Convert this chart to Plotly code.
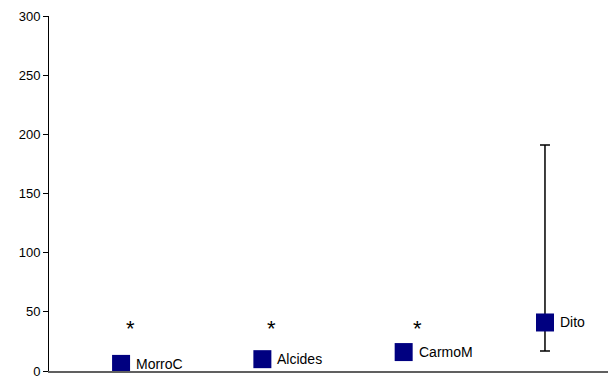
import plotly.graph_objects as go

sites = ["MorroC", "Alcides", "CarmoM", "Dito"]
values = [6, 10, 16, 41]
err_plus = [0, 0, 0, 150]
err_minus = [0, 0, 0, 24]
star_labels = ["*", "*", "*", ""]
star_level = [36, 36, 36, None]
y_ticks = [0, 50, 100, 150, 200, 250, 300]

xs = list(range(len(sites)))

fig = go.Figure()
fig.add_trace(go.Scatter(
    x=xs, y=values, mode="markers",
    marker=dict(symbol="square", size=18, color="#000080", line=dict(width=0)),
    error_y=dict(type="data", symmetric=False, array=err_plus, arrayminus=err_minus,
                 color="black", thickness=1.5, width=5, visible=True),
    showlegend=False, hoverinfo="skip",
))

annotations = []
for i, (s, v) in enumerate(zip(sites, values)):
    annotations.append(dict(x=i, y=v, text=s, showarrow=False, xanchor="left",
                            yanchor="middle", xshift=13,
                            font=dict(family="Liberation Sans, Arial", size=14, color="black")))
star_shift = [9, 9, 14]
for i, (t, lv) in enumerate(zip(star_labels, star_level)):
    if t:
        annotations.append(dict(x=i, y=lv, text=t, showarrow=False, xanchor="center",
                                yanchor="middle", xshift=star_shift[i],
                                font=dict(family="Liberation Sans, Arial", size=22, color="black")))

# page body has an 8px default margin; compensate so the plot lands where the reference is
fig.update_layout(
    width=608, height=375,
    margin=dict(l=41, r=8, t=8, b=12, autoexpand=False),
    plot_bgcolor="white", paper_bgcolor="white",
    annotations=annotations,
    xaxis=dict(range=[-0.51, 3.446], showticklabels=False, ticks="", showgrid=False,
               zeroline=False, showline=True, linecolor="#606060", linewidth=1.5,
               automargin=False),
    yaxis=dict(range=[0, 300], tickvals=y_ticks, ticktext=[str(t) for t in y_ticks],
               ticks="outside", ticklen=5, tickcolor="black", showgrid=False,
               zeroline=False, showline=True, linecolor="black", linewidth=1,
               automargin=False,
               tickfont=dict(family="Liberation Sans, Arial", size=13, color="black")),
)

fig.write_html("out.html")
